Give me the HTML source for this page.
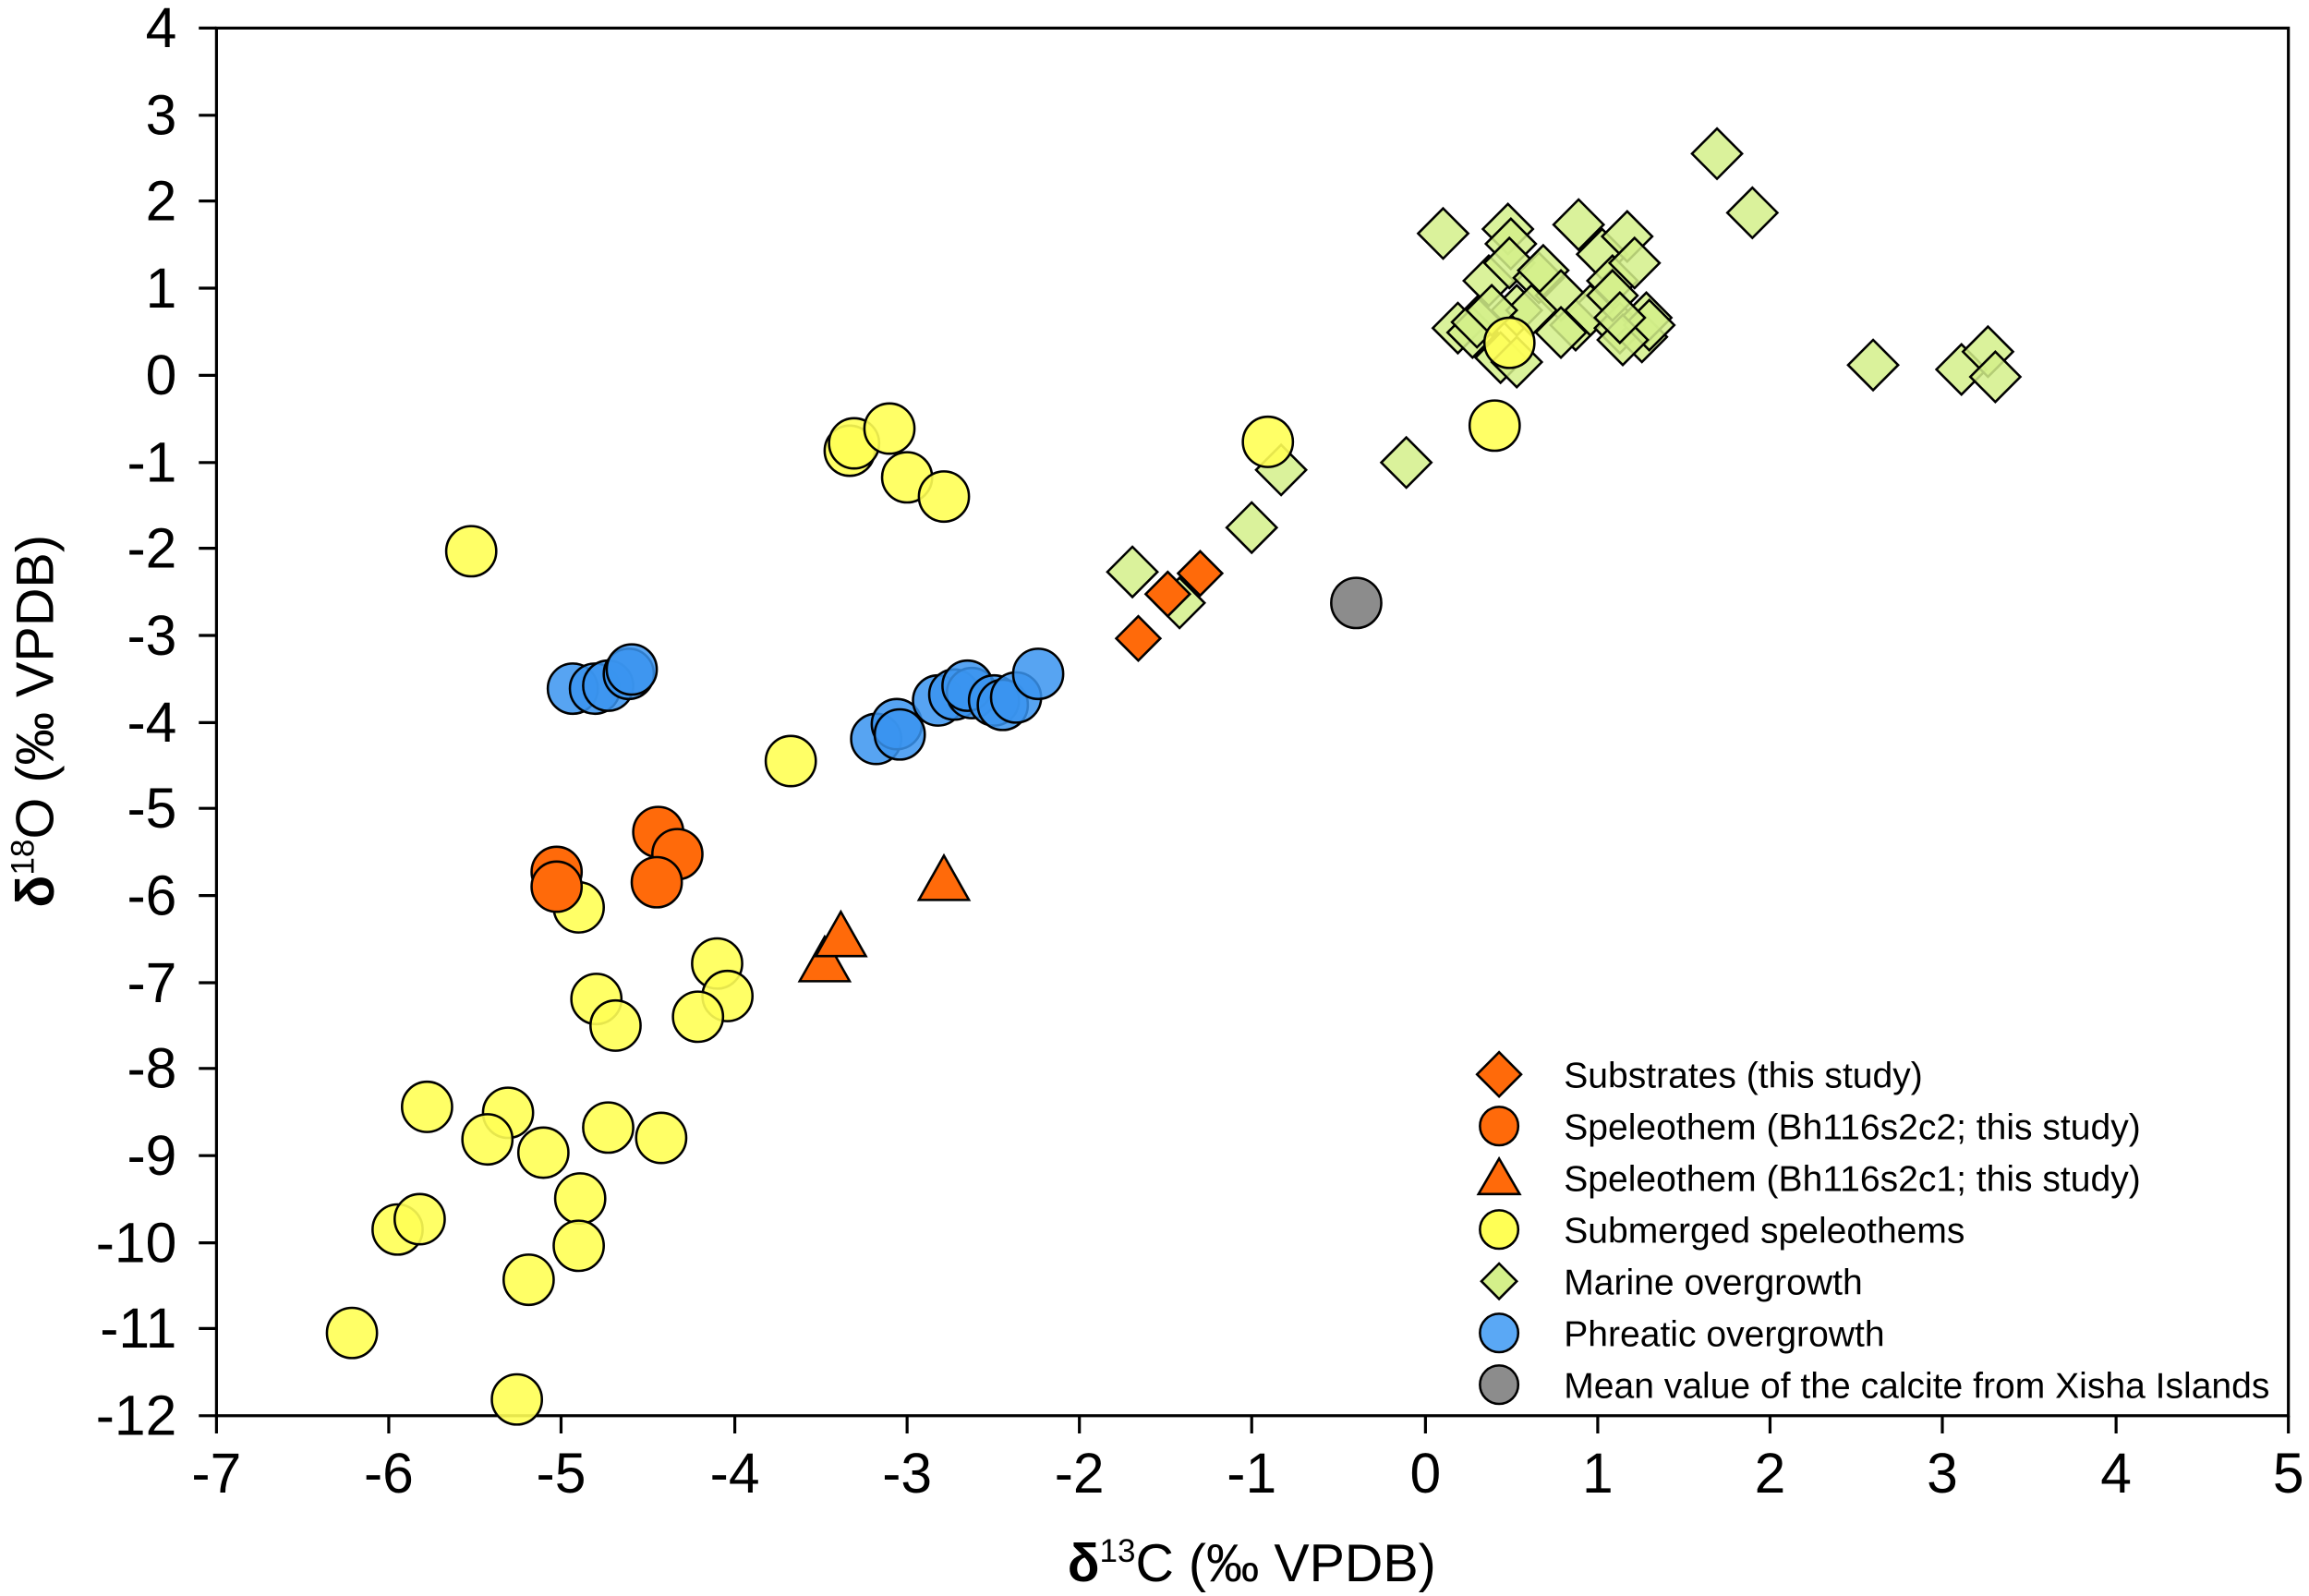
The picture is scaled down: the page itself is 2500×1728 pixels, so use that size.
<!DOCTYPE html>
<html><head><meta charset="utf-8"><style>html,body{margin:0;padding:0;background:#fff}svg{display:block}</style></head>
<body>
<svg width="2500" height="1728" viewBox="0 0 1568 1080" preserveAspectRatio="none" xmlns="http://www.w3.org/2000/svg" font-family="Liberation Sans, sans-serif">
<defs>
<g id="dm"><polygon points="0,-17 17,0 0,17 -17,0" fill="#d4f08a" fill-opacity="0.85" stroke="#000" stroke-width="1.6"/></g>
<g id="ds"><polygon points="0,-15 15,0 0,15 -15,0" fill="#ff6a0a" stroke="#000" stroke-width="1.6"/></g>
<g id="cy"><circle r="17" fill="#ffff55" fill-opacity="0.9" stroke="#000" stroke-width="1.6"/></g>
<g id="cb"><circle r="17" fill="#3a94f0" fill-opacity="0.85" stroke="#000" stroke-width="1.6"/></g>
<g id="co"><circle r="17" fill="#ff6a0a" stroke="#000" stroke-width="1.6"/></g>
<g id="tr"><polygon points="0,-17 17,13 -17,13" fill="#ff6a0a" stroke="#000" stroke-width="1.6"/></g>
</defs>
<rect x="147" y="19" width="1407" height="939" fill="none" stroke="#000" stroke-width="2"/>
<g stroke="#000" stroke-width="2">
<line x1="147" y1="958" x2="147" y2="970"/><line x1="264" y1="958" x2="264" y2="970"/><line x1="381" y1="958" x2="381" y2="970"/><line x1="499" y1="958" x2="499" y2="970"/><line x1="616" y1="958" x2="616" y2="970"/><line x1="733" y1="958" x2="733" y2="970"/><line x1="850" y1="958" x2="850" y2="970"/><line x1="968" y1="958" x2="968" y2="970"/><line x1="1085" y1="958" x2="1085" y2="970"/><line x1="1202" y1="958" x2="1202" y2="970"/><line x1="1319" y1="958" x2="1319" y2="970"/><line x1="1437" y1="958" x2="1437" y2="970"/><line x1="1554" y1="958" x2="1554" y2="970"/>
</g>
<g stroke="#000" stroke-width="2">
<line x1="135" y1="19" x2="147" y2="19"/><line x1="135" y1="78" x2="147" y2="78"/><line x1="135" y1="136" x2="147" y2="136"/><line x1="135" y1="195" x2="147" y2="195"/><line x1="135" y1="254" x2="147" y2="254"/><line x1="135" y1="313" x2="147" y2="313"/><line x1="135" y1="371" x2="147" y2="371"/><line x1="135" y1="430" x2="147" y2="430"/><line x1="135" y1="489" x2="147" y2="489"/><line x1="135" y1="547" x2="147" y2="547"/><line x1="135" y1="606" x2="147" y2="606"/><line x1="135" y1="665" x2="147" y2="665"/><line x1="135" y1="723" x2="147" y2="723"/><line x1="135" y1="782" x2="147" y2="782"/><line x1="135" y1="841" x2="147" y2="841"/><line x1="135" y1="899" x2="147" y2="899"/><line x1="135" y1="958" x2="147" y2="958"/>
</g>
<g font-size="38" text-anchor="middle">
<text x="147" y="1010">-7</text><text x="264" y="1010">-6</text><text x="381" y="1010">-5</text><text x="499" y="1010">-4</text><text x="616" y="1010">-3</text><text x="733" y="1010">-2</text><text x="850" y="1010">-1</text><text x="968" y="1010">0</text><text x="1085" y="1010">1</text><text x="1202" y="1010">2</text><text x="1319" y="1010">3</text><text x="1437" y="1010">4</text><text x="1554" y="1010">5</text>
</g>
<g font-size="38" text-anchor="end">
<text x="120" y="32">4</text><text x="120" y="91">3</text><text x="120" y="149">2</text><text x="120" y="208">1</text><text x="120" y="267">0</text><text x="120" y="326">-1</text><text x="120" y="384">-2</text><text x="120" y="443">-3</text><text x="120" y="502">-4</text><text x="120" y="560">-5</text><text x="120" y="619">-6</text><text x="120" y="678">-7</text><text x="120" y="736">-8</text><text x="120" y="795">-9</text><text x="120" y="854">-10</text><text x="120" y="912">-11</text><text x="120" y="971">-12</text>
</g>
<text x="850" y="1070" font-size="36" text-anchor="middle"><tspan font-weight="bold">δ</tspan><tspan font-size="22" dy="-13">13</tspan><tspan dy="13">C (‰ VPDB)</tspan></text>
<text transform="translate(36,488) rotate(-90)" font-size="36" text-anchor="middle"><tspan font-weight="bold">δ</tspan><tspan font-size="22" dy="-13">18</tspan><tspan dy="13">O (‰ VPDB)</tspan></text>
<g>
<use href="#dm" x="769" y="387"/><use href="#dm" x="801" y="408"/><use href="#dm" x="850" y="357"/><use href="#dm" x="870" y="318"/><use href="#dm" x="955" y="313"/><use href="#dm" x="980" y="158"/><use href="#dm" x="1024" y="155"/><use href="#dm" x="1026" y="165"/><use href="#dm" x="1011" y="190"/><use href="#dm" x="1025" y="178"/><use href="#dm" x="990" y="222"/><use href="#dm" x="1000" y="225"/><use href="#dm" x="1003" y="218"/><use href="#dm" x="1019" y="242"/><use href="#dm" x="1030" y="210"/><use href="#dm" x="1045" y="188"/><use href="#dm" x="1048" y="183"/><use href="#dm" x="1060" y="200"/><use href="#dm" x="1070" y="220"/><use href="#dm" x="1072" y="152"/><use href="#dm" x="1080" y="210"/><use href="#dm" x="1088" y="172"/><use href="#dm" x="1095" y="190"/><use href="#dm" x="1100" y="222"/><use href="#dm" x="1105" y="160"/><use href="#dm" x="1110" y="178"/><use href="#dm" x="1115" y="228"/><use href="#dm" x="1118" y="215"/><use href="#dm" x="1120" y="220"/><use href="#dm" x="1102" y="230"/><use href="#dm" x="1166" y="104"/><use href="#dm" x="1190" y="144"/><use href="#dm" x="1272" y="247"/><use href="#dm" x="1332" y="250"/><use href="#dm" x="1350" y="238"/><use href="#dm" x="1355" y="255"/><use href="#dm" x="1040" y="210"/><use href="#dm" x="1060" y="225"/><use href="#dm" x="1030" y="245"/><use href="#dm" x="1013" y="210"/><use href="#dm" x="1095" y="200"/><use href="#dm" x="1100" y="215"/>
</g>
<g>
<use href="#cy" x="320" y="373"/><use href="#cy" x="577" y="305"/><use href="#cy" x="580" y="300"/><use href="#cy" x="604" y="290"/><use href="#cy" x="616" y="323"/><use href="#cy" x="641" y="336"/><use href="#cy" x="861" y="299"/><use href="#cy" x="1015" y="288"/><use href="#cy" x="1025" y="232"/><use href="#cy" x="537" y="515"/><use href="#cy" x="393" y="614"/><use href="#cy" x="405" y="676"/><use href="#cy" x="418" y="694"/><use href="#cy" x="487" y="652"/><use href="#cy" x="494" y="674"/><use href="#cy" x="474" y="688"/><use href="#cy" x="290" y="749"/><use href="#cy" x="345" y="753"/><use href="#cy" x="331" y="771"/><use href="#cy" x="369" y="780"/><use href="#cy" x="413" y="763"/><use href="#cy" x="449" y="770"/><use href="#cy" x="394" y="811"/><use href="#cy" x="393" y="843"/><use href="#cy" x="270" y="832"/><use href="#cy" x="285" y="825"/><use href="#cy" x="359" y="866"/><use href="#cy" x="239" y="902"/><use href="#cy" x="351" y="947"/>
</g>
<g>
<use href="#cb" x="389" y="466"/><use href="#cb" x="404" y="466"/><use href="#cb" x="413" y="464"/><use href="#cb" x="427" y="456"/><use href="#cb" x="429" y="453"/><use href="#cb" x="595" y="500"/><use href="#cb" x="609" y="490"/><use href="#cb" x="611" y="497"/><use href="#cb" x="637" y="474"/><use href="#cb" x="648" y="470"/><use href="#cb" x="660" y="469"/><use href="#cb" x="657" y="464"/><use href="#cb" x="675" y="474"/><use href="#cb" x="681" y="477"/><use href="#cb" x="690" y="472"/><use href="#cb" x="705" y="456"/>
</g>
<g>
<use href="#co" x="378" y="590"/><use href="#co" x="378" y="600"/><use href="#co" x="447" y="563"/><use href="#co" x="460" y="578"/><use href="#co" x="446" y="597"/>
<use href="#tr" x="560" y="651"/><use href="#tr" x="571" y="634"/><use href="#tr" x="641" y="596"/>
<use href="#ds" x="773" y="432"/><use href="#ds" x="793" y="402"/><use href="#ds" x="815" y="388"/>
<circle cx="921" cy="408" r="17" fill="#8c8c8c" stroke="#000" stroke-width="1.6"/>
</g>
<g font-size="24.5">
<use href="#ds" x="1018" y="727"/><text x="1062" y="736">Substrates (this study)</text>
<circle cx="1018" cy="762" r="13" fill="#ff6a0a" stroke="#000" stroke-width="1.6"/><text x="1062" y="771">Speleothem (Bh116s2c2; this study)</text>
<polygon points="1018,784 1032,808 1004,808" fill="#ff6a0a" stroke="#000" stroke-width="1.6"/><text x="1062" y="806">Speleothem (Bh116s2c1; this study)</text>
<circle cx="1018" cy="832" r="13" fill="#ffff55" stroke="#000" stroke-width="1.6"/><text x="1062" y="841">Submerged speleothems</text>
<polygon points="1018,855 1030,867 1018,879 1006,867" fill="#d4f08a" stroke="#000" stroke-width="1.6"/><text x="1062" y="876">Marine overgrowth</text>
<circle cx="1018" cy="902" r="13" fill="#5aa8f5" stroke="#000" stroke-width="1.6"/><text x="1062" y="911">Phreatic overgrowth</text>
<circle cx="1018" cy="937" r="13" fill="#8c8c8c" stroke="#000" stroke-width="1.6"/><text x="1062" y="946">Mean value of the calcite from Xisha Islands</text>
</g>
</svg>
</body></html>
